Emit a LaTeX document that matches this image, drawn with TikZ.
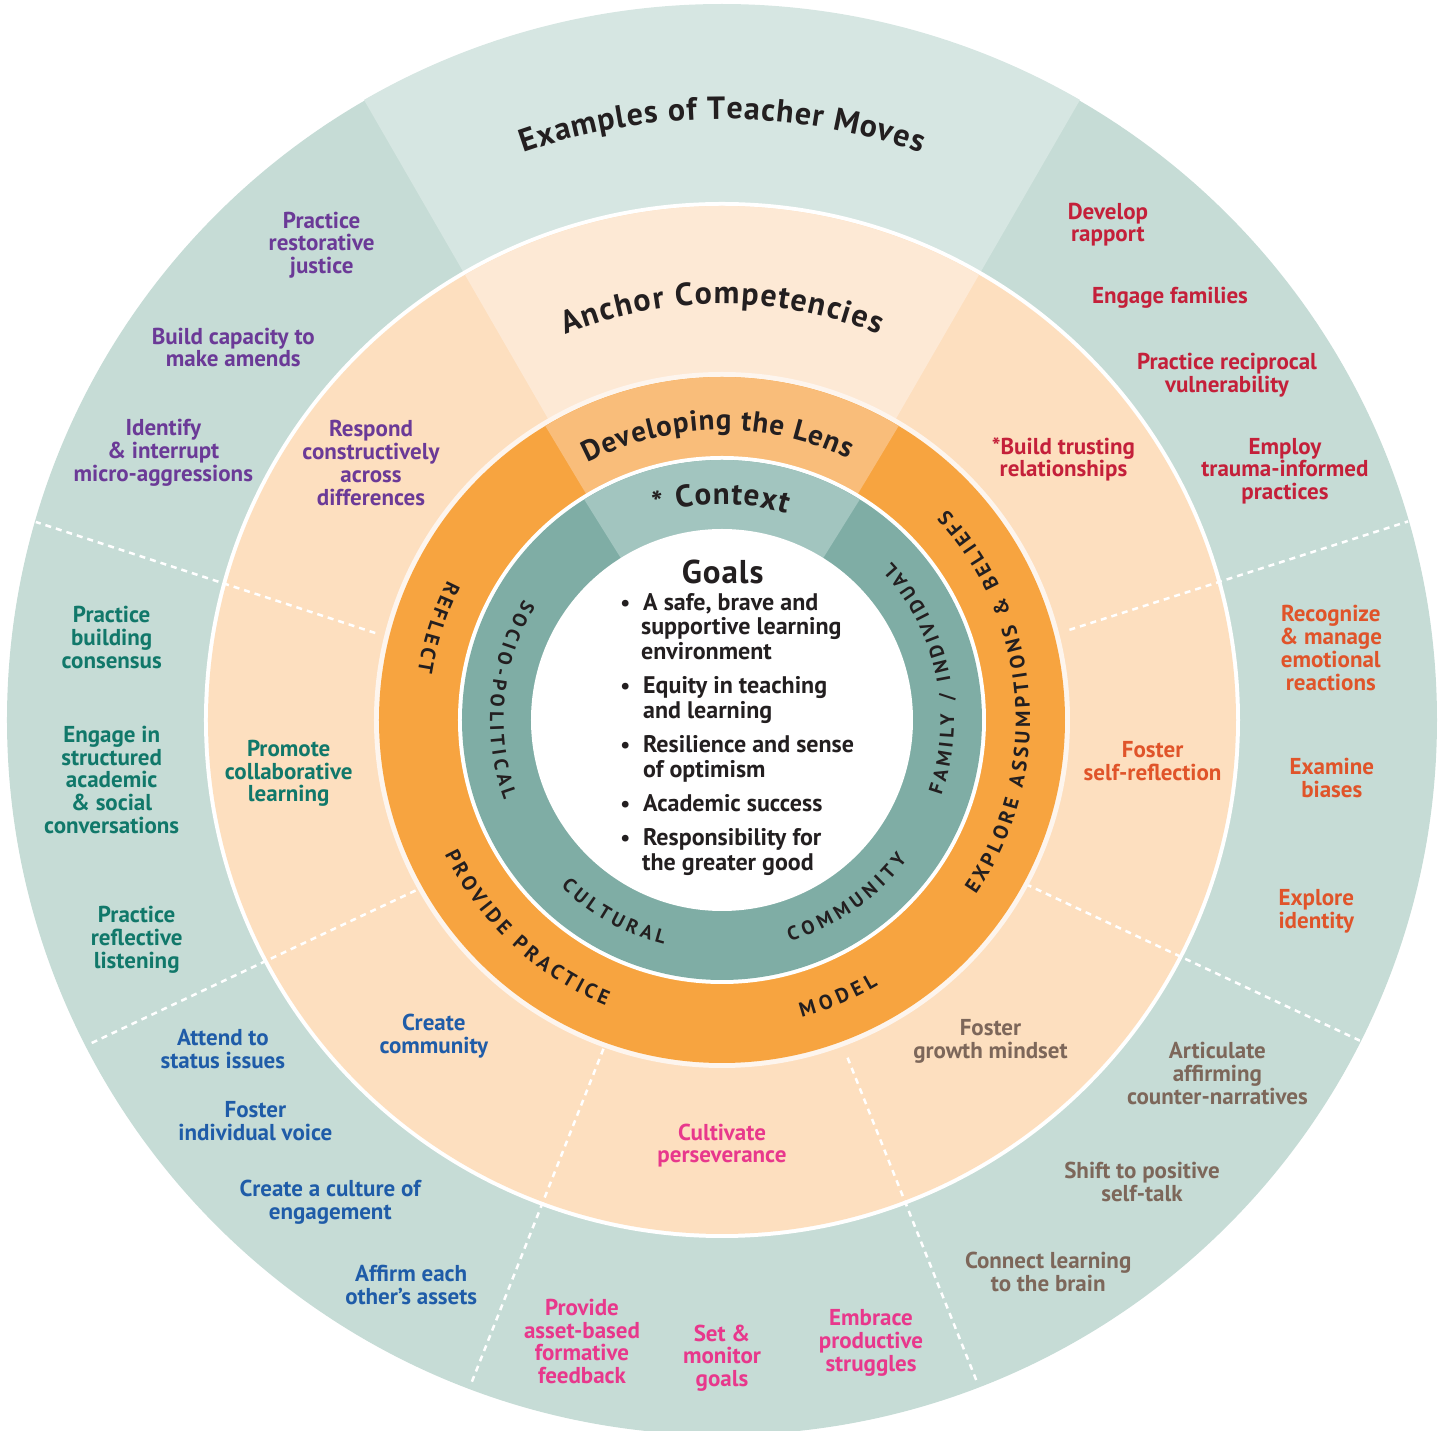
\documentclass[tikz,border=0pt]{standalone}
\usepackage{fontspec}
\setmainfont{PT Sans}
\usetikzlibrary{decorations.text}
\definecolor{outerc}{HTML}{C6DCD6}
\definecolor{outertop}{HTML}{D6E6E2}
\definecolor{anchc}{HTML}{FDDFBF}
\definecolor{anchtop}{HTML}{FDE9D5}
\definecolor{palec}{HTML}{FDF5EE}
\definecolor{orc}{HTML}{F7A440}
\definecolor{ortop}{HTML}{F9BD7A}
\definecolor{tealc}{HTML}{7FADA5}
\definecolor{tealtop}{HTML}{A2C5BF}
\definecolor{darkt}{HTML}{231F20}
\definecolor{purp}{HTML}{6B3A97}
\definecolor{redt}{HTML}{C4203A}
\definecolor{oredt}{HTML}{E0542A}
\definecolor{brownt}{HTML}{7D675A}
\definecolor{pinkt}{HTML}{E8388C}
\definecolor{bluet}{HTML}{1F5CA8}
\definecolor{greent}{HTML}{11786A}
\begin{document}
\begin{tikzpicture}[x=1pt,y=1pt,
  mv/.style={font=\fontsize{23}{22.7}\selectfont\bfseries, align=center, inner sep=0pt},
  gl/.style={font=\fontsize{24}{24}\selectfont\bfseries, text=darkt, anchor=mid west, inner sep=0pt},
  bul/.style={font=\fontsize{22}{24}\selectfont\bfseries, text=darkt, anchor=mid, inner sep=0pt},
  sep/.style={white, line width=2.5pt, dash pattern=on 6pt off 5pt},
]
\useasboundingbox (-722,-711) rectangle (722,720);
% outer ring
\fill[outerc] (0,0) circle[radius=715pt];
\fill[outertop] (60:516pt) arc[start angle=60,end angle=120,radius=516pt] -- (120:716pt) arc[start angle=120,end angle=60,radius=716pt] -- cycle;
\fill[white] (0,0) circle[radius=518pt];
% anchor ring
\fill[anchc] (0,0) circle[radius=514pt];
\fill[anchtop] (60:340pt) arc[start angle=60,end angle=120,radius=340pt] -- (120:514pt) arc[start angle=120,end angle=60,radius=514pt] -- cycle;
% separators
\coordinate (s1a) at (-687,198.3); \coordinate (s1b) at (-343.7,86);
\coordinate (s2a) at (688.4,199.3); \coordinate (s2b) at (347,90);
\coordinate (s3a) at (638,-320.7); \coordinate (s3b) at (303.5,-164);
\coordinate (s4a) at (254.2,-660); \coordinate (s4b) at (124.5,-335);
\coordinate (s5a) at (-250.1,-661.7); \coordinate (s5b) at (-117.7,-326.7);
\coordinate (s6a) at (-630.3,-323); \coordinate (s6b) at (-305.3,-170);
\begin{scope}
\clip (0,0) circle[radius=714pt];
\foreach \a/\b in {s1a/s1b,s2a/s2b,s3a/s3b,s4a/s4b,s5a/s5b,s6a/s6b}
  \draw[sep] (\a) -- (\b);
\end{scope}
% pale + orange ring
\fill[palec] (0,0) circle[radius=348pt];
\fill[orc] (0,0) circle[radius=343pt];
\fill[ortop] (59:260pt) arc[start angle=59,end angle=121,radius=260pt] -- (121:343pt) arc[start angle=121,end angle=59,radius=343pt] -- cycle;
% teal ring
\fill[white] (0,0) circle[radius=264pt];
\fill[tealc] (0,0) circle[radius=260pt];
\fill[tealtop] (58:185pt) arc[start angle=58,end angle=122,radius=185pt] -- (122:260pt) arc[start angle=122,end angle=58,radius=260pt] -- cycle;
\fill[white] (0,0) circle[radius=191pt];

% headings
\path[decorate, decoration={text along path, text color=darkt, text align={fit to path},
  text={|\fontsize{32}{32}\selectfont\bfseries|Examples of Teacher Moves}}]
  (109.3:601pt) arc[start angle=109.3,end angle=70.7,radius=601pt];
\path[decorate, decoration={text along path, text color=darkt, text align={fit to path},
  text={|\fontsize{32}{32}\selectfont\bfseries|Anchor Competencies}}]
  (112.1:416pt) arc[start angle=112.1,end angle=67.9,radius=416pt];
\path[decorate, decoration={text along path, text color=darkt, text align={fit to path},
  text={|\fontsize{29}{29}\selectfont\bfseries|Developing the Lens}}]
  (117.6:290pt) arc[start angle=117.6,end angle=64.2,radius=290pt];
\path[decorate, decoration={text along path, text color=darkt, text align={fit to path},
  text={|\fontsize{31}{31}\selectfont\bfseries|* Context}}]
  (107.7:216pt) arc[start angle=107.7,end angle=72.6,radius=216pt];

% ring labels (orange)
\path[decorate, decoration={text along path, text color=darkt, text align={fit to path},
  text={|\fontsize{20.5}{20.5}\selectfont\bfseries|REFLECT}}]
  (153:308pt) arc[start angle=153,end angle=171,radius=308pt];
\path[decorate, decoration={text along path, text color=darkt, text align={fit to path},
  text={|\fontsize{20.5}{20.5}\selectfont\bfseries|PROVIDE PRACTICE}}]
  (205.8:308pt) arc[start angle=205.8,end angle=247.8,radius=308pt];
\path[decorate, decoration={text along path, text color=darkt, text align={fit to path},
  text={|\fontsize{20.5}{20.5}\selectfont\bfseries|MODEL}}]
  (285:308pt) arc[start angle=285,end angle=300.5,radius=308pt];
\path[decorate, decoration={text along path, text color=darkt, text align={fit to path},
  text={|\fontsize{20.5}{20.5}\selectfont\bfseries|EXPLORE ASSUMPTIONS {\&} BELIEFS}}]
  (-34.5:308pt) arc[start angle=-34.5,end angle=43,radius=308pt];
% ring labels (teal)
\path[decorate, decoration={text along path, text color=darkt, text align={fit to path},
  text={|\fontsize{19.5}{19.5}\selectfont\bfseries|SOCIO-POLITICAL}}]
  (148.6:232pt) arc[start angle=148.6,end angle=200.2,radius=232pt];
\path[decorate, decoration={text along path, text color=darkt, text align={fit to path},
  text={|\fontsize{19.5}{19.5}\selectfont\bfseries|CULTURAL}}]
  (226:232pt) arc[start angle=226,end angle=255.5,radius=232pt];
\path[decorate, decoration={text along path, text color=darkt, text align={fit to path},
  text={|\fontsize{19.5}{19.5}\selectfont\bfseries|COMMUNITY}}]
  (287:232pt) arc[start angle=287,end angle=323,radius=232pt];
\path[decorate, decoration={text along path, text color=darkt, text align={fit to path},
  text={|\fontsize{19.5}{19.5}\selectfont\bfseries|FAMILY / INDIVIDUAL}}]
  (-19:232pt) arc[start angle=-19,end angle=43,radius=232pt];

% Goals
\node[font=\fontsize{33}{33}\selectfont\bfseries\addfontfeature{LetterSpace=3}, text=darkt, inner sep=0pt] (goals) at (0.7,148) {Goals};
\node[bul] (bu1) at (-96.6,112.3) {•};
\node[bul] (bu2) at (-96.6,28.8) {•};
\node[bul] (bu3) at (-96.6,-29.6) {•};
\node[bul] (bu4) at (-96.6,-89.5) {•};
\node[bul] (bu5) at (-96.6,-123.4) {•};
\node[gl] (gl1) at (-79,112.3) {A safe, brave and};
\node[gl] (gl2) at (-81,87.8) {supportive learning};
\node[gl] (gl3) at (-81,63.2) {environment};
\node[gl] (gl4) at (-79,28.8) {Equity in teaching};
\node[gl] (gl5) at (-79,4.3) {and learning};
\node[gl] (gl6) at (-79,-29.6) {Resilience and sense};
\node[gl] (gl7) at (-79,-54.6) {of optimism};
\node[gl] (gl8) at (-79,-89.5) {Academic success};
\node[gl] (gl9) at (-79,-123.4) {Responsibility for};
\node[gl] (gl10) at (-80,-148.4) {the greater good};

% purple
\node[mv, text=purp] (p1) at (-400.3,474.8) {Practice\\restorative\\justice};
\node[mv, text=purp] (p2) at (-488.7,372.5) {Build capacity to\\make amends};
\node[mv, text=purp] (p3) at (-558.7,267.3) {Identify\\\& interrupt\\micro-aggressions};
\node[mv, text=purp] (p4) at (-351,257) {Respond\\constructively\\across\\differences};
% green
\node[mv, text=greent] (g1) at (-610.3,82.7) {Practice\\building\\consensus};
\node[mv, text=greent] (g2) at (-610.3,-59.7) {Engage in\\structured\\academic\\\& social\\conversations};
\node[mv, text=greent] (g3) at (-585.3,-219.8) {Practice\\reflective\\listening};
\node[mv, text=greent] (g4) at (-433.3,-53.5) {Promote\\collaborative\\learning};
% blue
\node[mv, text=bluet] (b1) at (-499.1,-329.3) {Attend to\\status issues};
\node[mv, text=bluet] (b2) at (-466.6,-401.2) {Foster\\individual voice};
\node[mv, text=bluet] (b3) at (-391.8,-482.2) {Create a culture of\\engagement};
\node[mv, text=bluet] (b4) at (-310.8,-565.3) {Affirm each\\other’s assets};
\node[mv, text=bluet] (b5) at (-288.2,-316.3) {Create\\community};
% pink
\node[mv, text=pinkt] (k1) at (-140,-621.5) {Provide\\asset-based\\formative\\feedback};
\node[mv, text=pinkt] (k2) at (0,-638) {Set \&\\monitor\\goals};
\node[mv, text=pinkt] (k3) at (149,-622.8) {Embrace\\productive\\struggles};
\node[mv, text=pinkt] (k4) at (0,-425.5) {Cultivate\\perseverance};
% brown
\node[mv, text=brownt] (w1) at (495.4,-353.5) {Articulate\\affirming\\counter-narratives};
\node[mv, text=brownt] (w2) at (420,-461.7) {Shift to positive\\self-talk};
\node[mv, text=brownt] (w3) at (326.2,-551.7) {Connect learning\\to the brain};
\node[mv, text=brownt] (w4) at (268.5,-321.3) {Foster\\growth mindset};
% orange-red
\node[mv, text=oredt] (o1) at (608.8,72) {Recognize\\\& manage\\emotional\\reactions};
\node[mv, text=oredt] (o2) at (609.8,-58.3) {Examine\\biases};
\node[mv, text=oredt] (o3) at (594.3,-191.3) {Explore\\identity};
\node[mv, text=oredt] (o4) at (430.6,-41.2) {Foster\\self-reflection};
% red
\node[mv, text=redt] (r1) at (385.9,495.3) {Develop\\rapport};
\node[mv, text=redt] (r2) at (448,422.7) {Engage families};
\node[mv, text=redt] (r3) at (505,344.7) {Practice reciprocal\\vulnerability};
\node[mv, text=redt] (r4) at (563,249) {Employ\\trauma-informed\\practices};
\node[mv, text=redt] (r5) at (341.5,260.5) {*Build trusting\\relationships};
\end{tikzpicture}
\end{document}
